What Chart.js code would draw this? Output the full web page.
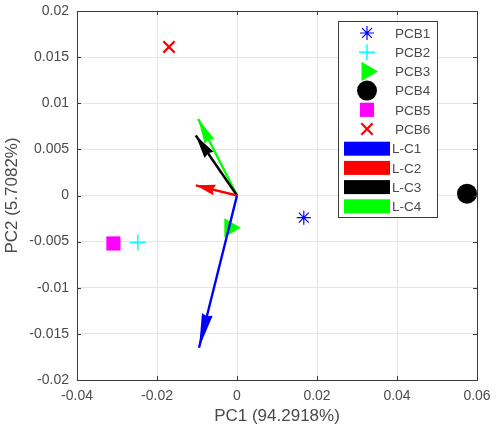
<!DOCTYPE html>
<html>
<head>
<meta charset="utf-8">
<script src="https://cdn.jsdelivr.net/npm/chart.js@4/dist/chart.umd.min.js"></script>
<style>
  html, body { margin: 0; padding: 0; background: #fff; }
  #wrap { width: 503px; height: 433px; }
</style>
</head>
<body>
<div id="wrap"><canvas id="pca"></canvas></div>
<script>
// scores (puntos)
const pcbNames = ['PCB1', 'PCB2', 'PCB3', 'PCB4', 'PCB5', 'PCB6'];
const pcbX = [0.0167, -0.0248, -0.0018, 0.0575, -0.0309, -0.0170];
const pcbY = [-0.0024, -0.0051, -0.0035, 0.0002, -0.0052, 0.0161];

// loadings (flechas desde el origen)
const loadNames = ['L-C1', 'L-C2', 'L-C3', 'L-C4'];
const loadX = [-0.0095, -0.0103, -0.0103, -0.0097];
const loadY = [-0.0165, 0.0011, 0.0065, 0.0083];

const xTicks = [-0.04, -0.02, 0, 0.02, 0.04, 0.06];
const yTicks = [-0.02, -0.015, -0.01, -0.005, 0, 0.005, 0.01, 0.015, 0.02];

// estilos de marcador tipo MATLAB
const pcbStyles = [
  { color: '#0000ff', pointStyle: 'star', radius: 7, borderWidth: 1.2, rotation: 0 },
  { color: '#00ffff', pointStyle: 'cross', radius: 8, borderWidth: 1.5, rotation: 0 },
  { color: '#00ff00', pointStyle: 'triangle', radius: 11, borderWidth: 0, rotation: 90 },
  { color: '#000000', pointStyle: 'circle', radius: 10, borderWidth: 0, rotation: 0 },
  { color: '#ff00ff', pointStyle: 'rect', radius: 10, borderWidth: 0, rotation: 0 },
  { color: '#ff0000', pointStyle: 'crossRot', radius: 8, borderWidth: 2.2, rotation: 0 },
];
const loadColors = ['#0000ff', '#ff0000', '#000000', '#00ff00'];

const textColor = '#4a4a4a';
const fontFamily = '"Liberation Sans", Arial, Helvetica, sans-serif';

const datasets = [];
pcbNames.forEach((name, i) => {
  const s = pcbStyles[i];
  datasets.push({
    label: name,
    data: [{ x: pcbX[i], y: pcbY[i] }],
    pointStyle: s.pointStyle,
    pointRadius: s.radius,
    pointRotation: s.rotation,
    pointBorderWidth: s.borderWidth,
    pointBackgroundColor: s.color,
    pointBorderColor: s.color,
    showLine: false,
    clip: false,
    order: 2,
  });
});
loadNames.forEach((name, i) => {
  datasets.push({
    label: name,
    data: [{ x: 0, y: 0 }, { x: loadX[i], y: loadY[i] }],
    isArrow: true,
    showLine: true,
    borderColor: loadColors[i],
    backgroundColor: loadColors[i],
    borderWidth: 2.4,
    pointRadius: 0,
    order: 1,
  });
});

// cabezas de flecha
const arrowHeads = {
  id: 'arrowHeads',
  afterDatasetsDraw(chart) {
    const { ctx, scales: { x, y } } = chart;
    chart.data.datasets.forEach(ds => {
      if (!ds.isArrow) return;
      const x0 = x.getPixelForValue(ds.data[0].x), y0 = y.getPixelForValue(ds.data[0].y);
      const x1 = x.getPixelForValue(ds.data[1].x), y1 = y.getPixelForValue(ds.data[1].y);
      const len = Math.hypot(x1 - x0, y1 - y0);
      const ux = (x1 - x0) / len, uy = (y1 - y0) / len;
      const head = 14 + 0.13 * len;
      const half = 5.5;
      const bx = x1 - ux * head, by = y1 - uy * head;
      ctx.save();
      ctx.fillStyle = ds.borderColor;
      ctx.beginPath();
      ctx.moveTo(x1, y1);
      ctx.lineTo(bx - uy * half, by + ux * half);
      ctx.lineTo(bx + ux * 2, by + uy * 2);
      ctx.lineTo(bx + uy * half, by - ux * half);
      ctx.closePath();
      ctx.fill();
      ctx.restore();
    });
  }
};

// caja de ejes con ticks hacia dentro
const axesBox = {
  id: 'axesBox',
  afterDatasetsDraw(chart) {
    const { ctx, chartArea: a, scales: { x, y } } = chart;
    ctx.save();
    ctx.strokeStyle = '#3a3a3a';
    ctx.lineWidth = 1;
    ctx.beginPath();
    xTicks.forEach(v => {
      const px = Math.round(x.getPixelForValue(v)) + 0.5;
      ctx.moveTo(px, a.bottom); ctx.lineTo(px, a.bottom - 4);
      ctx.moveTo(px, a.top); ctx.lineTo(px, a.top + 4);
    });
    yTicks.forEach(v => {
      const py = Math.round(y.getPixelForValue(v)) + 0.5;
      ctx.moveTo(a.left, py); ctx.lineTo(a.left + 4, py);
      ctx.moveTo(a.right, py); ctx.lineTo(a.right - 4, py);
    });
    ctx.stroke();
    ctx.strokeRect(Math.round(a.left) + 0.5, Math.round(a.top) + 0.5,
      Math.round(a.right - a.left), Math.round(a.bottom - a.top));
    ctx.restore();
  }
};

// leyenda dentro del área, como en MATLAB
const boxLegend = {
  id: 'boxLegend',
  afterDraw(chart) {
    const { ctx } = chart;
    const left = 338, top = 21, w = 99, h = 196;
    const rowH = 19.2, firstRow = 33;
    const mx = 367, tx = 395;
    ctx.save();
    ctx.fillStyle = '#ffffff';
    ctx.fillRect(left, top, w, h);
    ctx.strokeStyle = '#3a3a3a';
    ctx.lineWidth = 1;
    ctx.strokeRect(left + 0.5, top + 0.5, w, h);
    ctx.font = '13.5px ' + fontFamily;
    ctx.textBaseline = 'middle';
    ctx.textAlign = 'left';
    pcbNames.forEach((name, i) => {
      const s = pcbStyles[i];
      const cy = firstRow + i * rowH;
      ctx.fillStyle = s.color;
      ctx.strokeStyle = s.color;
      ctx.lineWidth = s.borderWidth;
      Chart.helpers.drawPoint(ctx, s, mx, cy);
      ctx.fillStyle = textColor;
      ctx.fillText(name, tx, cy + 1);
    });
    loadNames.forEach((name, i) => {
      const cy = firstRow + (pcbNames.length + i) * rowH + 0.5;
      ctx.fillStyle = loadColors[i];
      ctx.fillRect(344, cy - 7, 46, 14);
      ctx.fillStyle = textColor;
      ctx.fillText(name, tx - 3, cy + 1);
    });
    ctx.restore();
  }
};

const fmt = v => parseFloat(Number(v).toFixed(3)).toString();

new Chart(document.getElementById('pca'), {
  type: 'scatter',
  data: { datasets },
  options: {
    responsive: true,
    maintainAspectRatio: false,
    animation: false,
    events: [],
    layout: { padding: { top: 10, right: 26, left: 0, bottom: 0 } },
    plugins: {
      legend: { display: false },
      tooltip: { enabled: false },
    },
    scales: {
      x: {
        type: 'linear',
        min: -0.04,
        max: 0.06,
        afterBuildTicks: s => { s.ticks = xTicks.map(v => ({ value: v })); },
        afterFit: s => { s.height = 53; s.paddingLeft = 0; s.paddingRight = 0; },
        ticks: { callback: fmt, color: textColor, padding: 8, maxRotation: 0,
          font: { size: 14, family: fontFamily } },
        grid: { color: '#e6e6e6', drawTicks: false },
        border: { display: false },
        title: { display: true, text: 'PC1 (94.2918%)', color: textColor,
          font: { size: 17, family: fontFamily }, padding: { top: 0, bottom: 6 } },
      },
      y: {
        type: 'linear',
        min: -0.02,
        max: 0.02,
        afterBuildTicks: s => { s.ticks = yTicks.map(v => ({ value: v })); },
        afterFit: s => { s.width = 77; s.paddingTop = 0; s.paddingBottom = 0; },
        ticks: { callback: fmt, color: textColor, padding: 8,
          font: { size: 14, family: fontFamily } },
        grid: { color: '#e6e6e6', drawTicks: false },
        border: { display: false },
        title: { display: true, text: 'PC2 (5.7082%)', color: textColor,
          font: { size: 17, family: fontFamily }, padding: { top: 2, bottom: 0 } },
      }
    }
  },
  plugins: [arrowHeads, axesBox, boxLegend]
});
</script>
</body>
</html>
